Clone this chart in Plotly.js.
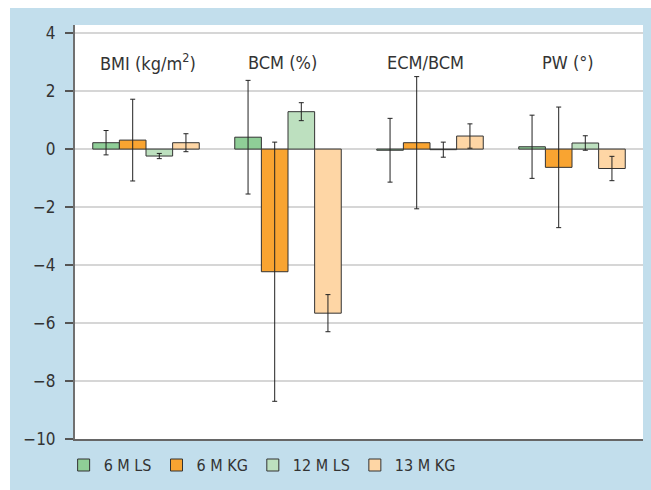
<!DOCTYPE html>
<html>
<head>
<meta charset="utf-8">
<script src="https://cdn.plot.ly/plotly-3.0.1.min.js"></script>
<style>
  html, body { margin: 0; padding: 0; background: #ffffff; }
  #chart { position: absolute; left: 10px; top: 8px; width: 641px; height: 482px; }
</style>
</head>
<body>
<div id="chart"></div>
<script>
// Categories and their labels drawn inside the plot
const categories = ["BMI", "BCM", "ECM/BCM", "PW"];
const categoryLabels = ["BMI (kg/m<sup>2</sup>)", "BCM (%)", "ECM/BCM", "PW (°)"];

// Series names
const seriesNames = ["6 M LS", "6 M KG", "12 M LS", "13 M KG"];

// Series values (mean change) and error bars
const ls6 = [0.22, 0.41, -0.04, 0.08];
const ls6Err = [0.42, 1.96, 1.10, 1.09];
const kg6 = [0.31, -4.23, 0.22, -0.63];
const kg6Err = [1.41, 4.47, 2.28, 2.08];
const ls12 = [-0.24, 1.29, -0.02, 0.21];
const ls12Err = [0.09, 0.31, 0.26, 0.25];
const kg13 = [0.22, -5.66, 0.45, -0.67];
const kg13Err = [0.31, 0.64, 0.42, 0.42];

// Y tick values
const yTicks = [4, 2, 0, -2, -4, -6, -8, -10];

const colors = ["#8fce97", "#f9a431", "#bde0bf", "#fed6a5"];
const values = [ls6, kg6, ls12, kg13];
const errors = [ls6Err, kg6Err, ls12Err, kg13Err];

const FONT = "'Liberation Sans Narrow', 'DejaVu Sans Condensed', 'Open Sans', sans-serif";

const traces = values.map((v, i) => ({
  type: "bar",
  name: seriesNames[i],
  x: categories,
  y: v,
  marker: { color: colors[i], line: { color: "#333333", width: 1 } },
  error_y: { type: "data", array: errors[i], visible: true, color: "#222222", thickness: 1, width: 2.5 }
}));

// small horizontal nudges of the in-plot labels (style only)
const labelShift = [2, -6, -5, -4];
const annotations = categories.map((c, i) => ({
  x: c, y: 3, xref: "x", yref: "y", xshift: labelShift[i],
  text: categoryLabels[i], showarrow: false,
  font: { family: FONT, size: 18, color: "#333333" }
}));

const layout = {
  width: 641, height: 482,
  margin: { l: 65, r: 8, t: 17, b: 51 },
  paper_bgcolor: "#c2deec",
  plot_bgcolor: "#ffffff",
  barmode: "group",
  bargap: 0.25,
  bargroupgap: 0,
  showlegend: true,
  legend: {
    orientation: "h", x: -0.02, xanchor: "left", y: -0.022, yanchor: "top",
    font: { family: FONT, size: 16, color: "#333333" },
    bgcolor: "rgba(0,0,0,0)", itemwidth: 30, traceorder: "normal"
  },
  xaxis: {
    showticklabels: false, ticks: "", showgrid: false,
    showline: true, linecolor: "#666666", linewidth: 1.5, zeroline: false,
    fixedrange: true
  },
  yaxis: {
    range: [-10, 4.28],
    tickvals: yTicks,
    ticks: "outside", ticklen: 8, tickcolor: "#555555", tickwidth: 1.5,
    showline: true, linecolor: "#707070", linewidth: 2,
    showgrid: true, gridcolor: "#d6d6d6", gridwidth: 1.5,
    zeroline: true, zerolinecolor: "#d6d6d6", zerolinewidth: 1.5,
    tickfont: { family: FONT, size: 17, color: "#333333" },
    ticklabelstandoff: 6
  },
  annotations: annotations
};

Plotly.newPlot("chart", traces, layout, { displayModeBar: false, staticPlot: true });
</script>
</body>
</html>
